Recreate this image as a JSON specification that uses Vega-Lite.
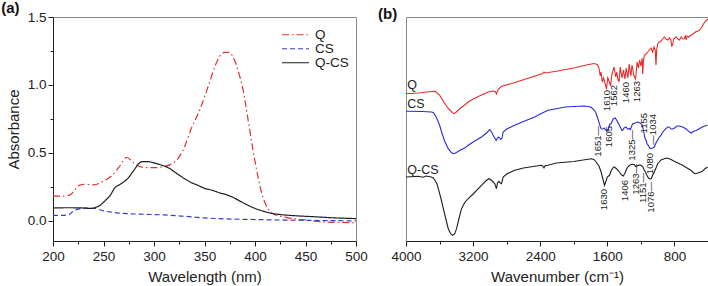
{
  "$schema": "https://vega.github.io/schema/vega-lite/v6.json",
  "padding": {"left": 0, "top": 0, "right": 0, "bottom": 0},
  "bounds": "flush",
  "spacing": 50,
  "config": {
    "font": "Liberation Sans",
    "view": {"stroke": "#8a8a8a", "strokeWidth": 1},
    "axis": {"grid": false, "domainColor": "#222", "tickColor": "#222", "labelColor": "#222", "titleColor": "#222", "labelFontSize": 13.5, "titleFontSize": 15, "titleFontWeight": "normal", "labelFont": "Liberation Sans", "titleFont": "Liberation Sans", "tickSize": 5, "domainWidth": 1, "tickWidth": 1, "labelFlush": false},
    "title": {"font": "Liberation Sans", "color": "#111"},
    "text": {"font": "Liberation Sans", "color": "#222"}
  },
  "resolve": {"scale": {"color": "independent", "strokeDash": "independent"}, "legend": {"color": "independent", "strokeDash": "independent"}},
  "datasets": {
    "uv": [
      {"s":"Q","wl":200,"a":0.18},{"s":"Q","wl":210,"a":0.18},{"s":"Q","wl":217,"a":0.19},{"s":"Q","wl":222,"a":0.23},{"s":"Q","wl":226,"a":0.26},{"s":"Q","wl":232,"a":0.268},{"s":"Q","wl":240,"a":0.264},{"s":"Q","wl":250,"a":0.29},{"s":"Q","wl":258,"a":0.33},{"s":"Q","wl":265,"a":0.39},{"s":"Q","wl":273,"a":0.465},{"s":"Q","wl":280,"a":0.425},{"s":"Q","wl":288,"a":0.394},{"s":"Q","wl":300,"a":0.39},{"s":"Q","wl":311,"a":0.4},{"s":"Q","wl":318,"a":0.42},{"s":"Q","wl":324,"a":0.46},{"s":"Q","wl":330,"a":0.54},{"s":"Q","wl":337,"a":0.68},{"s":"Q","wl":345,"a":0.81},{"s":"Q","wl":350,"a":0.91},{"s":"Q","wl":355,"a":1.02},{"s":"Q","wl":360,"a":1.13},{"s":"Q","wl":365,"a":1.21},{"s":"Q","wl":370,"a":1.24},{"s":"Q","wl":374,"a":1.24},{"s":"Q","wl":378,"a":1.21},{"s":"Q","wl":383,"a":1.11},{"s":"Q","wl":388,"a":0.97},{"s":"Q","wl":393,"a":0.75},{"s":"Q","wl":398,"a":0.52},{"s":"Q","wl":402,"a":0.36},{"s":"Q","wl":406,"a":0.22},{"s":"Q","wl":410,"a":0.13},{"s":"Q","wl":414,"a":0.075},{"s":"Q","wl":418,"a":0.05},{"s":"Q","wl":425,"a":0.033},{"s":"Q","wl":435,"a":0.018},{"s":"Q","wl":450,"a":0.005},{"s":"Q","wl":470,"a":-0.01},{"s":"Q","wl":485,"a":-0.013},{"s":"Q","wl":500,"a":-0.015},
      {"s":"CS","wl":200,"a":0.039},{"s":"CS","wl":210,"a":0.039},{"s":"CS","wl":216,"a":0.045},{"s":"CS","wl":220,"a":0.07},{"s":"CS","wl":225,"a":0.085},{"s":"CS","wl":232,"a":0.092},{"s":"CS","wl":238,"a":0.093},{"s":"CS","wl":244,"a":0.085},{"s":"CS","wl":250,"a":0.072},{"s":"CS","wl":258,"a":0.062},{"s":"CS","wl":265,"a":0.056},{"s":"CS","wl":275,"a":0.051},{"s":"CS","wl":290,"a":0.047},{"s":"CS","wl":310,"a":0.042},{"s":"CS","wl":330,"a":0.032},{"s":"CS","wl":350,"a":0.02},{"s":"CS","wl":370,"a":0.013},{"s":"CS","wl":400,"a":0.008},{"s":"CS","wl":430,"a":0.004},{"s":"CS","wl":451,"a":0.002},{"s":"CS","wl":480,"a":0.0},{"s":"CS","wl":500,"a":-0.002},
      {"s":"Q-CS","wl":200,"a":0.093},{"s":"Q-CS","wl":215,"a":0.095},{"s":"Q-CS","wl":230,"a":0.093},{"s":"Q-CS","wl":238,"a":0.09},{"s":"Q-CS","wl":243,"a":0.1},{"s":"Q-CS","wl":246,"a":0.11},{"s":"Q-CS","wl":252,"a":0.15},{"s":"Q-CS","wl":257,"a":0.19},{"s":"Q-CS","wl":261,"a":0.24},{"s":"Q-CS","wl":267,"a":0.27},{"s":"Q-CS","wl":274,"a":0.31},{"s":"Q-CS","wl":280,"a":0.37},{"s":"Q-CS","wl":285,"a":0.42},{"s":"Q-CS","wl":288,"a":0.435},{"s":"Q-CS","wl":294,"a":0.435},{"s":"Q-CS","wl":300,"a":0.425},{"s":"Q-CS","wl":307,"a":0.41},{"s":"Q-CS","wl":314,"a":0.39},{"s":"Q-CS","wl":322,"a":0.35},{"s":"Q-CS","wl":330,"a":0.31},{"s":"Q-CS","wl":337,"a":0.28},{"s":"Q-CS","wl":344,"a":0.258},{"s":"Q-CS","wl":350,"a":0.238},{"s":"Q-CS","wl":357,"a":0.225},{"s":"Q-CS","wl":365,"a":0.205},{"s":"Q-CS","wl":372,"a":0.19},{"s":"Q-CS","wl":380,"a":0.165},{"s":"Q-CS","wl":386,"a":0.14},{"s":"Q-CS","wl":392,"a":0.117},{"s":"Q-CS","wl":400,"a":0.09},{"s":"Q-CS","wl":408,"a":0.07},{"s":"Q-CS","wl":415,"a":0.056},{"s":"Q-CS","wl":425,"a":0.045},{"s":"Q-CS","wl":438,"a":0.037},{"s":"Q-CS","wl":460,"a":0.028},{"s":"Q-CS","wl":480,"a":0.02},{"s":"Q-CS","wl":500,"a":0.015}
    ],
    "ftir": [
      {"s":"Q","w":4000,"t":147.3},{"s":"Q","w":3850,"t":148},{"s":"Q","w":3700,"t":149.5},{"s":"Q","w":3650,"t":149.7},{"s":"Q","w":3600,"t":146},{"s":"Q","w":3550,"t":139},{"s":"Q","w":3500,"t":133},{"s":"Q","w":3450,"t":128.5},{"s":"Q","w":3425,"t":127.3},{"s":"Q","w":3400,"t":129},{"s":"Q","w":3350,"t":133},{"s":"Q","w":3300,"t":136},{"s":"Q","w":3258,"t":139},{"s":"Q","w":3200,"t":142},{"s":"Q","w":3100,"t":146},{"s":"Q","w":3020,"t":149},{"s":"Q","w":2960,"t":150},{"s":"Q","w":2935,"t":149.5},{"s":"Q","w":2922,"t":147},{"s":"Q","w":2905,"t":151},{"s":"Q","w":2862,"t":154.7},{"s":"Q","w":2700,"t":158.5},{"s":"Q","w":2500,"t":164},{"s":"Q","w":2370,"t":167.5},{"s":"Q","w":2355,"t":169},{"s":"Q","w":2340,"t":168},{"s":"Q","w":2209,"t":169.7},{"s":"Q","w":2000,"t":173},{"s":"Q","w":1850,"t":176},{"s":"Q","w":1760,"t":177.5},{"s":"Q","w":1720,"t":176.5},{"s":"Q","w":1700,"t":173},{"s":"Q","w":1685,"t":165},{"s":"Q","w":1675,"t":169},{"s":"Q","w":1660,"t":159},{"s":"Q","w":1645,"t":163},{"s":"Q","w":1625,"t":157},{"s":"Q","w":1610,"t":152},{"s":"Q","w":1595,"t":163},{"s":"Q","w":1580,"t":160},{"s":"Q","w":1562,"t":155},{"s":"Q","w":1545,"t":167},{"s":"Q","w":1520,"t":174},{"s":"Q","w":1500,"t":164},{"s":"Q","w":1488,"t":169},{"s":"Q","w":1475,"t":162},{"s":"Q","w":1460,"t":159},{"s":"Q","w":1447,"t":174},{"s":"Q","w":1425,"t":163},{"s":"Q","w":1408,"t":171},{"s":"Q","w":1390,"t":162},{"s":"Q","w":1375,"t":173},{"s":"Q","w":1355,"t":163},{"s":"Q","w":1340,"t":177},{"s":"Q","w":1320,"t":165},{"s":"Q","w":1305,"t":176},{"s":"Q","w":1285,"t":166},{"s":"Q","w":1263,"t":162},{"s":"Q","w":1245,"t":179},{"s":"Q","w":1230,"t":173},{"s":"Q","w":1215,"t":181},{"s":"Q","w":1200,"t":175},{"s":"Q","w":1185,"t":183},{"s":"Q","w":1178,"t":167},{"s":"Q","w":1170,"t":179},{"s":"Q","w":1159,"t":185.7},{"s":"Q","w":1140,"t":187},{"s":"Q","w":1119,"t":189},{"s":"Q","w":1100,"t":191},{"s":"Q","w":1080,"t":193},{"s":"Q","w":1060,"t":189},{"s":"Q","w":1045,"t":194},{"s":"Q","w":1030,"t":191},{"s":"Q","w":1020,"t":176},{"s":"Q","w":1012,"t":191},{"s":"Q","w":1000,"t":197},{"s":"Q","w":981,"t":199},{"s":"Q","w":960,"t":200},{"s":"Q","w":940,"t":202},{"s":"Q","w":921,"t":204},{"s":"Q","w":900,"t":202},{"s":"Q","w":880,"t":201},{"s":"Q","w":860,"t":203},{"s":"Q","w":842,"t":201},{"s":"Q","w":832,"t":195},{"s":"Q","w":822,"t":196},{"s":"Q","w":810,"t":202},{"s":"Q","w":782,"t":204},{"s":"Q","w":760,"t":202},{"s":"Q","w":740,"t":201},{"s":"Q","w":720,"t":204},{"s":"Q","w":700,"t":202},{"s":"Q","w":684,"t":202.3},{"s":"Q","w":670,"t":205},{"s":"Q","w":660,"t":201},{"s":"Q","w":650,"t":205},{"s":"Q","w":630,"t":204},{"s":"Q","w":604,"t":205.7},{"s":"Q","w":580,"t":207},{"s":"Q","w":550,"t":209},{"s":"Q","w":520,"t":210},{"s":"Q","w":505,"t":210.7},{"s":"Q","w":480,"t":213},{"s":"Q","w":460,"t":216},{"s":"Q","w":440,"t":219},{"s":"Q","w":420,"t":220.5},{"s":"Q","w":400,"t":222},
      {"s":"CS","w":4000,"t":129.7},{"s":"CS","w":3800,"t":129.5},{"s":"CS","w":3700,"t":129},{"s":"CS","w":3674,"t":128.5},{"s":"CS","w":3640,"t":124},{"s":"CS","w":3600,"t":116},{"s":"CS","w":3576,"t":109},{"s":"CS","w":3540,"t":100},{"s":"CS","w":3496,"t":92.3},{"s":"CS","w":3460,"t":88.5},{"s":"CS","w":3437,"t":87.3},{"s":"CS","w":3410,"t":88},{"s":"CS","w":3380,"t":89.5},{"s":"CS","w":3358,"t":90.7},{"s":"CS","w":3300,"t":93},{"s":"CS","w":3258,"t":95.7},{"s":"CS","w":3200,"t":99},{"s":"CS","w":3100,"t":104},{"s":"CS","w":3040,"t":108},{"s":"CS","w":3002,"t":111.3},{"s":"CS","w":2980,"t":109},{"s":"CS","w":2950,"t":104},{"s":"CS","w":2925,"t":100.7},{"s":"CS","w":2910,"t":103},{"s":"CS","w":2895,"t":104},{"s":"CS","w":2870,"t":101.5},{"s":"CS","w":2855,"t":103},{"s":"CS","w":2842,"t":109},{"s":"CS","w":2800,"t":112},{"s":"CS","w":2704,"t":115.7},{"s":"CS","w":2600,"t":119.5},{"s":"CS","w":2466,"t":124},{"s":"CS","w":2400,"t":127},{"s":"CS","w":2307,"t":130.7},{"s":"CS","w":2209,"t":132.3},{"s":"CS","w":2100,"t":134},{"s":"CS","w":2000,"t":134.5},{"s":"CS","w":1872,"t":135},{"s":"CS","w":1800,"t":134},{"s":"CS","w":1773,"t":132.3},{"s":"CS","w":1740,"t":129},{"s":"CS","w":1713,"t":122.3},{"s":"CS","w":1690,"t":116},{"s":"CS","w":1674,"t":112.3},{"s":"CS","w":1651,"t":112},{"s":"CS","w":1640,"t":113},{"s":"CS","w":1620,"t":111},{"s":"CS","w":1605,"t":109.7},{"s":"CS","w":1590,"t":112},{"s":"CS","w":1570,"t":117},{"s":"CS","w":1555,"t":117.3},{"s":"CS","w":1530,"t":122},{"s":"CS","w":1507,"t":123},{"s":"CS","w":1490,"t":121},{"s":"CS","w":1470,"t":118},{"s":"CS","w":1456,"t":115.7},{"s":"CS","w":1440,"t":113},{"s":"CS","w":1425,"t":110.5},{"s":"CS","w":1416,"t":110.7},{"s":"CS","w":1400,"t":113},{"s":"CS","w":1376,"t":114},{"s":"CS","w":1360,"t":112},{"s":"CS","w":1337,"t":112.3},{"s":"CS","w":1325,"t":111.5},{"s":"CS","w":1310,"t":115},{"s":"CS","w":1297,"t":117.3},{"s":"CS","w":1270,"t":118},{"s":"CS","w":1238,"t":119},{"s":"CS","w":1210,"t":118},{"s":"CS","w":1190,"t":117},{"s":"CS","w":1178,"t":114},{"s":"CS","w":1165,"t":109},{"s":"CS","w":1155,"t":104},{"s":"CS","w":1140,"t":101},{"s":"CS","w":1125,"t":97},{"s":"CS","w":1112,"t":95.7},{"s":"CS","w":1095,"t":93},{"s":"CS","w":1080,"t":92.3},{"s":"CS","w":1060,"t":93},{"s":"CS","w":1040,"t":94},{"s":"CS","w":1020,"t":98},{"s":"CS","w":1000,"t":101},{"s":"CS","w":980,"t":104},{"s":"CS","w":961,"t":105.7},{"s":"CS","w":930,"t":110},{"s":"CS","w":901,"t":112.3},{"s":"CS","w":880,"t":114},{"s":"CS","w":862,"t":114},{"s":"CS","w":840,"t":112},{"s":"CS","w":820,"t":112},{"s":"CS","w":800,"t":113},{"s":"CS","w":770,"t":115},{"s":"CS","w":740,"t":115},{"s":"CS","w":703,"t":114},{"s":"CS","w":680,"t":113},{"s":"CS","w":660,"t":112},{"s":"CS","w":644,"t":110.7},{"s":"CS","w":620,"t":109},{"s":"CS","w":600,"t":108},{"s":"CS","w":584,"t":109},{"s":"CS","w":560,"t":110},{"s":"CS","w":540,"t":110.5},{"s":"CS","w":505,"t":112.3},{"s":"CS","w":480,"t":113.5},{"s":"CS","w":440,"t":115},{"s":"CS","w":406,"t":115.7},
      {"s":"Q-CS","w":4000,"t":64},{"s":"Q-CS","w":3900,"t":64.5},{"s":"Q-CS","w":3853,"t":64.7},{"s":"Q-CS","w":3800,"t":63.8},{"s":"Q-CS","w":3760,"t":65},{"s":"Q-CS","w":3700,"t":64},{"s":"Q-CS","w":3674,"t":63},{"s":"Q-CS","w":3650,"t":60},{"s":"Q-CS","w":3630,"t":57},{"s":"Q-CS","w":3615,"t":52.3},{"s":"Q-CS","w":3585,"t":43},{"s":"Q-CS","w":3555,"t":32.3},{"s":"Q-CS","w":3525,"t":22},{"s":"Q-CS","w":3496,"t":12.3},{"s":"Q-CS","w":3470,"t":7.5},{"s":"Q-CS","w":3445,"t":5.7},{"s":"Q-CS","w":3420,"t":7},{"s":"Q-CS","w":3397,"t":12.3},{"s":"Q-CS","w":3370,"t":22},{"s":"Q-CS","w":3338,"t":32.3},{"s":"Q-CS","w":3300,"t":38.5},{"s":"Q-CS","w":3258,"t":42.3},{"s":"Q-CS","w":3200,"t":47},{"s":"Q-CS","w":3100,"t":55.7},{"s":"Q-CS","w":3050,"t":60},{"s":"Q-CS","w":3013,"t":62.3},{"s":"Q-CS","w":2985,"t":61},{"s":"Q-CS","w":2960,"t":59},{"s":"Q-CS","w":2940,"t":57},{"s":"Q-CS","w":2922,"t":52.3},{"s":"Q-CS","w":2910,"t":58},{"s":"Q-CS","w":2895,"t":59.7},{"s":"Q-CS","w":2875,"t":58},{"s":"Q-CS","w":2862,"t":57.3},{"s":"Q-CS","w":2850,"t":61},{"s":"Q-CS","w":2842,"t":64},{"s":"Q-CS","w":2800,"t":67},{"s":"Q-CS","w":2704,"t":70.7},{"s":"Q-CS","w":2600,"t":73},{"s":"Q-CS","w":2387,"t":75.7},{"s":"Q-CS","w":2370,"t":75},{"s":"Q-CS","w":2355,"t":73},{"s":"Q-CS","w":2340,"t":75.4},{"s":"Q-CS","w":2307,"t":75.7},{"s":"Q-CS","w":2209,"t":78},{"s":"Q-CS","w":2000,"t":79.5},{"s":"Q-CS","w":1793,"t":82.3},{"s":"Q-CS","w":1760,"t":81.5},{"s":"Q-CS","w":1733,"t":79},{"s":"Q-CS","w":1700,"t":75},{"s":"Q-CS","w":1674,"t":69},{"s":"Q-CS","w":1650,"t":61},{"s":"Q-CS","w":1634,"t":55.7},{"s":"Q-CS","w":1620,"t":59},{"s":"Q-CS","w":1600,"t":64},{"s":"Q-CS","w":1575,"t":65.7},{"s":"Q-CS","w":1550,"t":71},{"s":"Q-CS","w":1523,"t":74},{"s":"Q-CS","w":1500,"t":73},{"s":"Q-CS","w":1470,"t":70.5},{"s":"Q-CS","w":1456,"t":69},{"s":"Q-CS","w":1430,"t":66},{"s":"Q-CS","w":1409,"t":65},{"s":"Q-CS","w":1390,"t":68},{"s":"Q-CS","w":1370,"t":72},{"s":"Q-CS","w":1357,"t":74},{"s":"Q-CS","w":1330,"t":76},{"s":"Q-CS","w":1297,"t":76.7},{"s":"Q-CS","w":1275,"t":76},{"s":"Q-CS","w":1263,"t":74.5},{"s":"Q-CS","w":1246,"t":75},{"s":"Q-CS","w":1220,"t":76},{"s":"Q-CS","w":1198,"t":75.7},{"s":"Q-CS","w":1175,"t":74},{"s":"Q-CS","w":1160,"t":71},{"s":"Q-CS","w":1151,"t":69.7},{"s":"Q-CS","w":1130,"t":66},{"s":"Q-CS","w":1110,"t":63},{"s":"Q-CS","w":1090,"t":62},{"s":"Q-CS","w":1076,"t":62.3},{"s":"Q-CS","w":1060,"t":65.7},{"s":"Q-CS","w":1040,"t":69},{"s":"Q-CS","w":1020,"t":73},{"s":"Q-CS","w":1000,"t":77.3},{"s":"Q-CS","w":960,"t":81},{"s":"Q-CS","w":921,"t":82.3},{"s":"Q-CS","w":890,"t":83},{"s":"Q-CS","w":862,"t":82.3},{"s":"Q-CS","w":830,"t":81},{"s":"Q-CS","w":802,"t":79.7},{"s":"Q-CS","w":760,"t":78},{"s":"Q-CS","w":703,"t":75.7},{"s":"Q-CS","w":650,"t":73},{"s":"Q-CS","w":604,"t":70.7},{"s":"Q-CS","w":570,"t":68},{"s":"Q-CS","w":545,"t":67.3},{"s":"Q-CS","w":520,"t":68},{"s":"Q-CS","w":490,"t":69},{"s":"Q-CS","w":465,"t":69.7},{"s":"Q-CS","w":440,"t":72},{"s":"Q-CS","w":406,"t":74}
    ],
    "peaks": [
      {"w":1608,"t":151,"txt":"1610"},{"w":1516,"t":156,"txt":"1562"},{"w":1377,"t":159,"txt":"1460"},{"w":1252,"t":160,"txt":"1263"},
      {"w":1710,"t":115,"txt":"1651—"},{"w":1585,"t":115,"txt":"1605"},{"w":1311,"t":111,"txt":"1325—"},{"w":1163,"t":128,"txt":"1155"},{"w":1056,"t":127,"txt":"—1034"},{"w":1091,"t":88,"txt":"1080"},
      {"w":1635,"t":52,"txt":"1630"},{"w":1394,"t":61,"txt":"1406"},{"w":1264,"t":77,"txt":"1263—"},{"w":1169,"t":68,"txt":"1151—"},{"w":1076,"t":59,"txt":"1076—"}
    ],
    "names": [
      {"w":3985,"t":155.7,"txt":"Q"},{"w":3985,"t":137.2,"txt":"CS"},{"w":3985,"t":71.5,"txt":"Q-CS"}
    ]
  },
  "hconcat": [
    {
      "width": 303,
      "height": 224,
      "title": {"text": "(a)", "anchor": "start", "frame": "bounds", "fontSize": 15, "fontWeight": "bold", "offset": -6, "dx": -5},
      "layer": [
        {
          "data": {"name": "uv"},
          "mark": {"type": "line", "strokeWidth": 1.2, "interpolate": "monotone"},
          "encoding": {
            "x": {"field": "wl", "type": "quantitative", "scale": {"domain": [200, 500], "nice": false, "zero": false},
                  "axis": {"values": [200, 250, 300, 350, 400, 450, 500], "format": "d", "title": "Wavelength (nm)", "labelPadding": 3, "titlePadding": 7, "orient": "bottom"}},
            "y": {"field": "a", "type": "quantitative", "scale": {"domain": [-0.15, 1.5], "nice": false, "zero": false},
                  "axis": {"values": [0, 0.5, 1, 1.5], "format": ".1f", "title": "Absorbance", "labelPadding": 2, "titlePadding": 6, "orient": "left"}},
            "color": {"field": "s", "type": "nominal",
                      "scale": {"domain": ["Q", "CS", "Q-CS"], "range": ["#e0302e", "#3a3ad6", "#1e1e1e"]},
                      "legend": {"orient": "none", "legendX": 228, "legendY": 11, "title": null, "symbolType": "stroke", "symbolSize": 729, "symbolStrokeWidth": 1.2, "labelFontSize": 13.5, "labelOffset": 5, "clipHeight": 13.5, "rowPadding": -1, "padding": 0, "labelColor": "#222", "labelFont": "Liberation Sans"}},
            "strokeDash": {"field": "s", "type": "nominal",
                      "scale": {"domain": ["Q", "CS", "Q-CS"], "range": [[7, 3, 1.5, 3], [5, 3], [1, 0]]},
                      "legend": {"orient": "none", "legendX": 228, "legendY": 11, "title": null, "symbolType": "stroke", "symbolSize": 729, "symbolStrokeWidth": 1.2, "labelFontSize": 13.5, "labelOffset": 5, "clipHeight": 13.5, "rowPadding": -1, "padding": 0, "labelColor": "#222", "labelFont": "Liberation Sans"}}
          }
        },
        {
          "data": {"name": "uv"},
          "mark": {"type": "point", "opacity": 0},
          "encoding": {
            "x": {"field": "wl", "type": "quantitative", "axis": {"values": [225, 275, 325, 375, 425, 475], "labels": false, "domain": false, "title": null, "tickSize": 3, "orient": "bottom"}},
            "y": {"field": "a", "type": "quantitative", "axis": {"values": [0.25, 0.75, 1.25], "labels": false, "domain": false, "title": null, "tickSize": 3, "orient": "left"}}
          }
        }
      ],
      "resolve": {"axis": {"x": "independent", "y": "independent"}}
    },
    {
      "width": 302,
      "height": 224,
      "title": {"text": "(b)", "anchor": "start", "frame": "bounds", "fontSize": 15, "fontWeight": "bold", "offset": -6, "dx": -13},
      "layer": [
        {
          "data": {"name": "ftir"},
          "mark": {"type": "line", "strokeWidth": 1.1},
          "encoding": {
            "x": {"field": "w", "type": "quantitative", "scale": {"domain": [400, 4000], "reverse": true, "nice": false, "zero": false},
                  "axis": {"values": [4000, 3200, 2400, 1600, 800], "format": "d", "title": "Wavenumber (cm⁻¹)", "labelPadding": 3, "titlePadding": 7, "orient": "bottom"}},
            "y": {"field": "t", "type": "quantitative", "scale": {"domain": [0, 224], "nice": false, "zero": false},
                  "axis": {"ticks": false, "labels": false, "title": "Transmittance (%)", "titlePadding": 12, "orient": "left"}},
            "color": {"field": "s", "type": "nominal",
                      "scale": {"domain": ["Q", "CS", "Q-CS"], "range": ["#ea2a2a", "#2b2bd8", "#1e1e1e"]},
                      "legend": null}
          }
        },
        {
          "data": {"name": "ftir"},
          "mark": {"type": "point", "opacity": 0},
          "encoding": {
            "x": {"field": "w", "type": "quantitative", "axis": {"values": [3600, 2800, 2000, 1200, 400], "labels": false, "domain": false, "title": null, "tickSize": 3, "orient": "bottom"}},
            "y": {"field": "t", "type": "quantitative", "axis": null}
          }
        },
        {
          "data": {"name": "peaks"},
          "mark": {"type": "text", "angle": 270, "align": "right", "baseline": "middle", "fontSize": 9.5, "color": "#222"},
          "encoding": {
            "x": {"field": "w", "type": "quantitative", "axis": null},
            "y": {"field": "t", "type": "quantitative", "axis": null},
            "text": {"field": "txt", "type": "nominal"}
          }
        },
        {
          "data": {"name": "names"},
          "mark": {"type": "text", "align": "left", "baseline": "middle", "fontSize": 12.5, "color": "#222"},
          "encoding": {
            "x": {"field": "w", "type": "quantitative", "axis": null},
            "y": {"field": "t", "type": "quantitative", "axis": null},
            "text": {"field": "txt", "type": "nominal"}
          }
        }
      ],
      "resolve": {"axis": {"x": "independent"}}
    }
  ]
}
